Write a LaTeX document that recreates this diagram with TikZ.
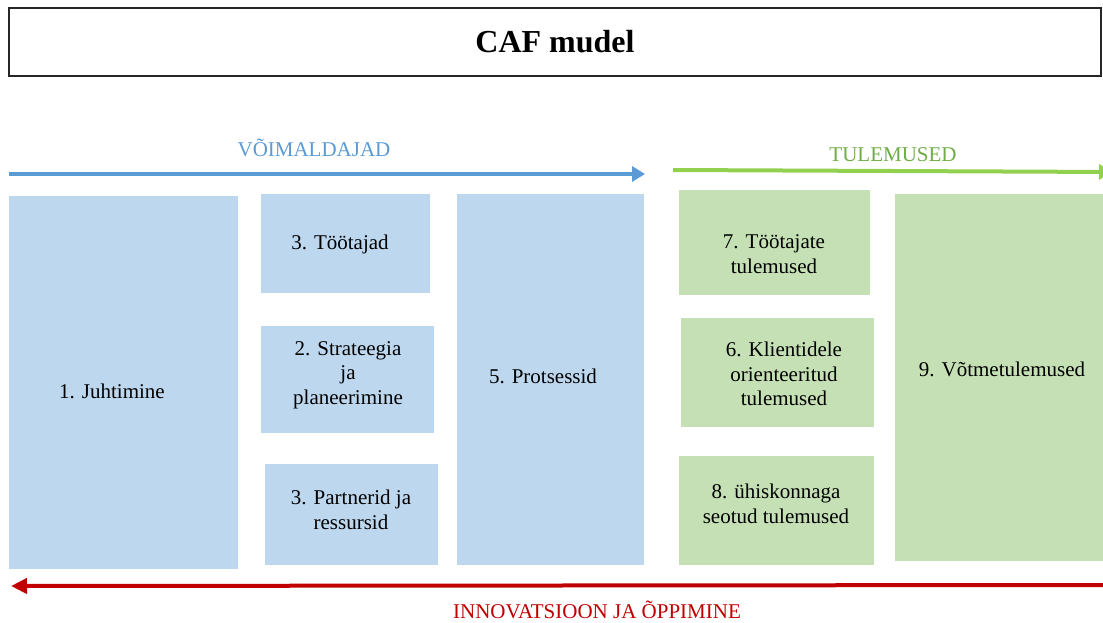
\documentclass[tikz,border=0pt]{standalone}
\usepackage{fontspec}
\setmainfont{Liberation Serif}
\usetikzlibrary{arrows.meta}
\definecolor{bfill}{HTML}{BDD7EE}
\definecolor{gfill}{HTML}{C5E0B4}
\definecolor{barrow}{HTML}{5B9BD5}
\definecolor{garrow}{HTML}{92D050}
\definecolor{gtext}{HTML}{70AD47}
\definecolor{rarrow}{HTML}{C00000}
\tikzset{
  bluebox/.style={fill=bfill, draw=none, inner sep=0pt},
  greenbox/.style={fill=gfill, draw=none, inner sep=0pt},
  txt/.style={align=center, inner sep=0pt, font=\fontsize{21}{24.5}\selectfont},
  flowline/.style={line width=4pt},
}
\newcommand{\boxat}[6]{% style, name, x1, y1, x2, y2
  \node[#1, minimum width={(#5-#3)*1pt}, minimum height={(#6-#4)*1pt}] (#2) at ({(#3+#5)/2},{(#4+#6)/2}) {};}
\begin{document}
\begin{tikzpicture}[x=1pt, y=-1pt]
\useasboundingbox (0,0) rectangle (1103,623);
\clip (0,0) rectangle (1103,623);
\fill[white] (0,0) rectangle (1103,623);

% title
\node[draw=black!85, line width=1.2pt, minimum width=1092pt, minimum height=68pt, inner sep=0pt,
      font=\bfseries\fontsize{32}{36}\selectfont] (title) at (555,42) {CAF mudel};

% arrows
\coordinate (bs) at (9,174);
\coordinate (be) at (645,174);
\draw[flowline, barrow, -{Triangle[length=13pt,width=15pt]}] (bs) -- (be);
\node[txt, text=barrow] (vlab) at (314,148) {VÕIMALDAJAD};

\coordinate (gs) at (673,170);
\coordinate (ge) at (1112,172);
\draw[flowline, garrow, -{Triangle[length=13pt,width=15pt]}] (gs) -- (ge);
\node[txt, text=gtext] (tlab) at (893,155) {TULEMUSED};

\coordinate (rs) at (1103,585);
\coordinate (re) at (11,586);
\draw[flowline, rarrow, -{Triangle[length=16pt,width=15pt]}] (rs) -- (re);
\node[txt, text=rarrow] (ilab) at (597,610) {INNOVATSIOON JA ÕPPIMINE};

% blue boxes
\boxat{bluebox}{b1}{9}{196}{238}{569}
\boxat{bluebox}{b3}{261}{194}{430}{293}
\boxat{bluebox}{b2}{261}{326}{434}{433}
\boxat{bluebox}{b4}{265}{464}{438}{565}
\boxat{bluebox}{b5}{457}{194}{644}{565}
% green boxes
\boxat{greenbox}{g7}{679}{190}{870}{295}
\boxat{greenbox}{g6}{681}{318}{874}{427}
\boxat{greenbox}{g8}{679}{456}{874}{565}
\boxat{greenbox}{g9}{895}{194}{1103}{561}

% texts
\node[txt] (t1) at (112,391) {1. Juhtimine};
\node[txt] (t3) at (340,244) {3. Töötajad};
\node[txt] (t2) at (348,375) {2. Strateegia\\ja\\planeerimine};
\node[txt] (t4) at (351,510) {3. Partnerid ja\\ressursid};
\node[txt] (t5) at (543,376) {5. Protsessid};
\node[txt] (t7) at (774,254) {7. Töötajate\\tulemused};
\node[txt] (t6) at (784,374) {6. Klientidele\\orienteeritud\\tulemused};
\node[txt] (t8) at (776,504) {8. ühiskonnaga\\seotud tulemused};
\node[txt] (t9) at (1002,369) {9. Võtmetulemused};
\end{tikzpicture}
\end{document}
